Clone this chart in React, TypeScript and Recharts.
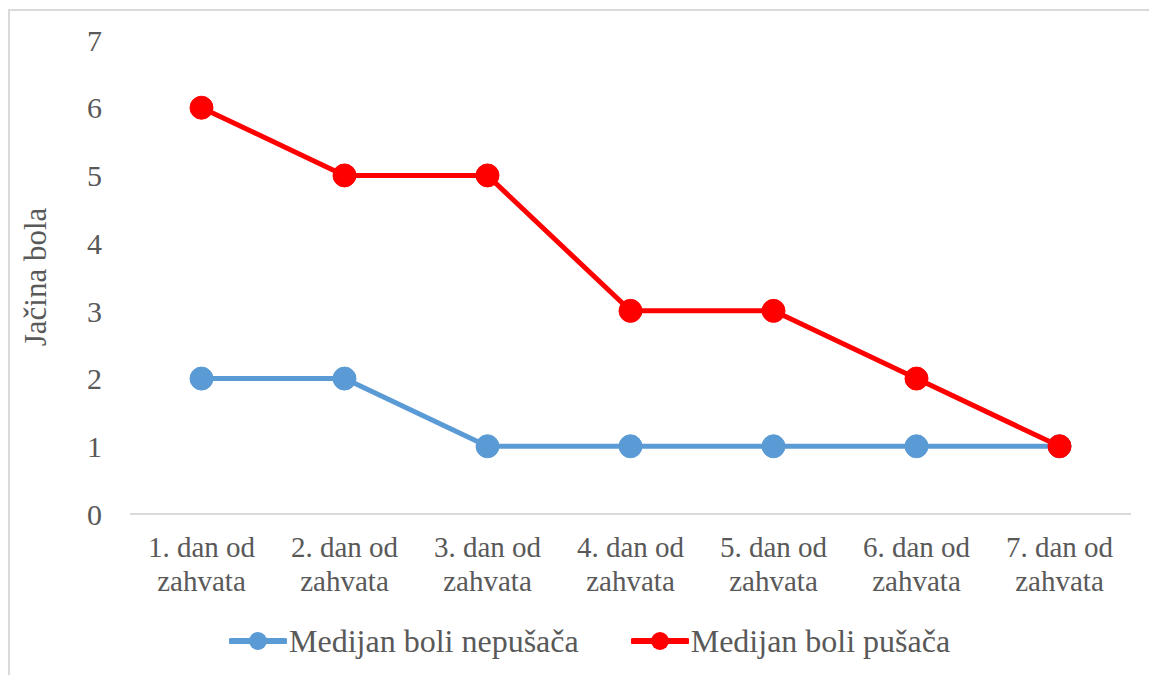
import { LineChart, Line, XAxis, YAxis } from 'recharts';

const days = ['1. dan od zahvata', '2. dan od zahvata', '3. dan od zahvata', '4. dan od zahvata', '5. dan od zahvata', '6. dan od zahvata', '7. dan od zahvata'];
const nonSmokers = [2, 2, 1, 1, 1, 1, 1];
const smokers = [6, 5, 5, 3, 3, 2, 1];
const yTicks = [0, 1, 2, 3, 4, 5, 6, 7];

const SERIES = [
  { key: 'nepusaci', name: 'Medijan boli nepušača', color: '#5b9bd5' },
  { key: 'pusaci', name: 'Medijan boli pušača', color: '#ff0000' },
];

const FONT = '"Liberation Serif", "Times New Roman", serif';
const TEXT = '#595959';

const data = days.map((d, i) => ({ day: d, nepusaci: nonSmokers[i], pusaci: smokers[i] }));

function DayTick({ x, y, payload }: any) {
  const words = String(payload.value).split(' ');
  const first = words.slice(0, 3).join(' ');
  const second = words.slice(3).join(' ');
  return (
    <text x={x} y={y} textAnchor="middle" fill={TEXT} fontSize={29} fontFamily={FONT}>
      <tspan x={x} dy={0}>{first}</tspan>
      <tspan x={x} dy={34}>{second}</tspan>
    </text>
  );
}

function LegendIcon({ color }: { color: string }) {
  return (
    <svg width={58} height={24} style={{ display: 'block' }}>
      <line x1={2} y1={12} x2={56} y2={12} stroke={color} strokeWidth={6} strokeLinecap="round" />
      <circle cx={29} cy={12} r={9} fill={color} />
    </svg>
  );
}

export default function App() {
  return (
    <div style={{ position: 'absolute', left: 0, top: 0, width: 1149, height: 675, overflow: 'hidden', background: '#fff' }}>
      <div style={{ position: 'absolute', left: 8, top: 9, width: 1200, height: 700, border: '2px solid #d9d9d9' }} />
      <div style={{ position: 'absolute', left: 0, top: 0 }}>
        <LineChart width={1149} height={675} data={data} margin={{ top: 40, right: 18, bottom: 0, left: 70 }}>
          <XAxis
            dataKey="day"
            scale="band"
            axisLine={{ stroke: '#d9d9d9', strokeWidth: 2 }}
            tickLine={false}
            interval={0}
            height={161}
            tick={<DayTick />}
            tickSize={0}
            tickMargin={43}
          />
          <YAxis
            domain={[0, 7]}
            ticks={yTicks}
            interval={0}
            width={60}
            axisLine={false}
            tickLine={false}
            tickSize={0}
            tickMargin={28}
            tick={{ fill: TEXT, fontSize: 30, fontFamily: FONT }}
            label={{
              content: () => (
                <text x={46} y={277} transform="rotate(-90 46 277)" textAnchor="middle" fill={TEXT} fontSize={31} fontFamily={FONT}>
                  Jačina bola
                </text>
              ),
            }}
          />
          <Line
            dataKey="nepusaci"
            name={SERIES[0].name}
            stroke={SERIES[0].color}
            strokeWidth={5}
            dot={{ r: 11.5, fill: SERIES[0].color, stroke: SERIES[0].color, strokeWidth: 1 }}
            isAnimationActive={false}
          />
          <Line
            dataKey="pusaci"
            name={SERIES[1].name}
            stroke={SERIES[1].color}
            strokeWidth={5}
            dot={{ r: 11.5, fill: SERIES[1].color, stroke: SERIES[1].color, strokeWidth: 1 }}
            isAnimationActive={false}
          />
        </LineChart>
      </div>
      <div style={{ position: 'absolute', left: 229, top: 622, display: 'flex', alignItems: 'center', fontFamily: FONT, fontSize: 32, color: TEXT }}>
        {SERIES.map((s, i) => (
          <div key={s.key} style={{ display: 'flex', alignItems: 'center', marginLeft: i === 0 ? 0 : 52 }}>
            <LegendIcon color={s.color} />
            <span style={{ marginLeft: 2, lineHeight: '38px' }}>{s.name}</span>
          </div>
        ))}
      </div>
    </div>
  );
}
